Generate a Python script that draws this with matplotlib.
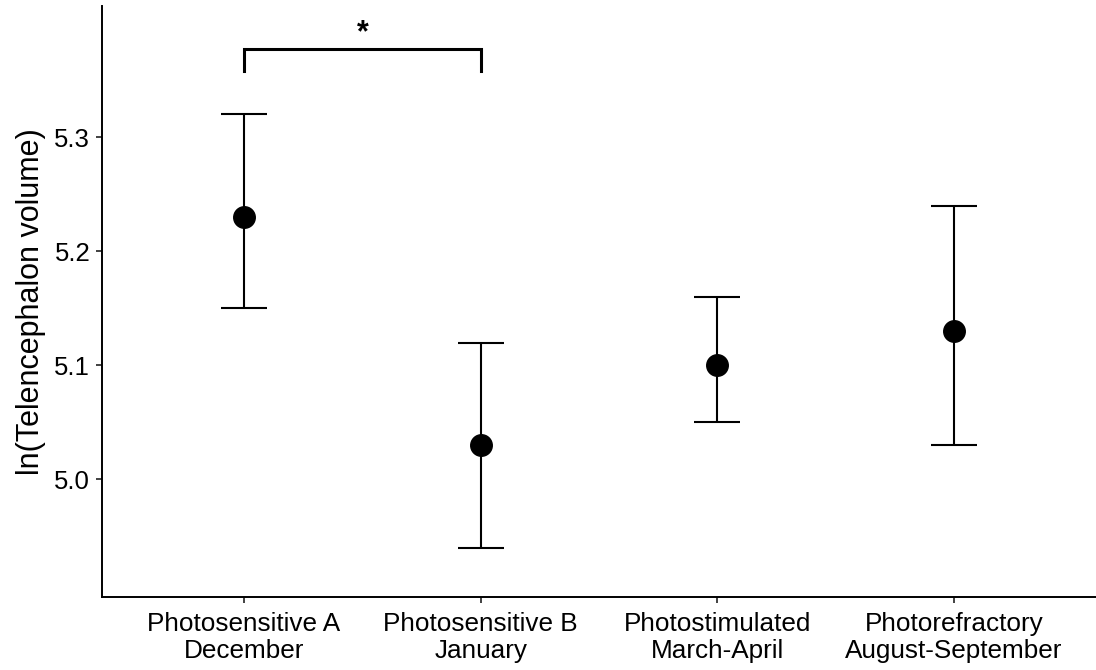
import matplotlib
matplotlib.use("Agg")
import matplotlib.pyplot as plt

plt.rcParams['font.family'] = ['Liberation Sans', 'DejaVu Sans']

# Group labels and summary statistics (mean with interval bounds)
groups = ["Photosensitive A\nDecember", "Photosensitive B\nJanuary",
          "Photostimulated\nMarch-April", "Photorefractory\nAugust-September"]
means = [5.23, 5.03, 5.10, 5.13]
lower = [5.15, 4.94, 5.05, 5.03]
upper = [5.32, 5.12, 5.16, 5.24]
y_ticks = [5.0, 5.1, 5.2, 5.3]

# Significance bracket between the first two groups
sig_pair = (0, 1)
sig_y = 5.377
sig_drop = 5.358
sig_label = "*"

fig = plt.figure(figsize=(10.96, 6.70), dpi=100)
ax = fig.add_axes([0.0931, 0.109, 0.9069, 0.882])

x = list(range(len(groups)))
err = [[m - lo for m, lo in zip(means, lower)],
       [hi - m for m, hi in zip(means, upper)]]
ax.errorbar(x, means, yerr=err, fmt='o', color='black', ms=15.5,
            elinewidth=1.5, capsize=16.5, capthick=1.5, zorder=3)

x0, x1 = sig_pair
ax.plot([x0, x0, x1, x1], [sig_drop, sig_y, sig_y, sig_drop],
        color='black', lw=2.2, solid_joinstyle='miter', clip_on=False)
ax.text((x0 + x1) / 2, sig_y + 0.007, sig_label, ha='center', va='baseline',
        fontsize=22, fontweight='bold')

ax.set_xlim(-0.6, 3.6)
ax.set_ylim(4.897, 5.415)
ax.set_xticks(x)
ax.set_xticklabels(groups, fontsize=18.8, linespacing=1.2)
ax.set_yticks(y_ticks)
ax.set_yticklabels([f"{v:.1f}" for v in y_ticks], fontsize=18.5)
ax.set_ylabel("ln(Telencephalon volume)", fontsize=22, labelpad=6)

for side in ['top', 'right']:
    ax.spines[side].set_visible(False)
for side in ['left', 'bottom']:
    ax.spines[side].set_linewidth(1.4)
ax.tick_params(axis='both', length=4.5, width=1.3, color='#333333', pad=4)
ax.tick_params(axis='x', pad=6)

fig.savefig("out.png", dpi=100)
